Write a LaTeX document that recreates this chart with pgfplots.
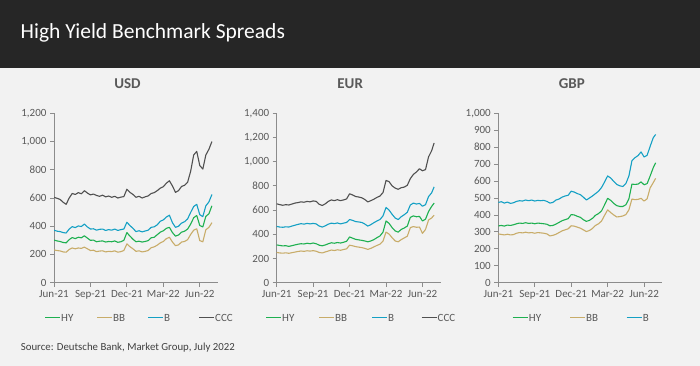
\documentclass[border=0pt]{standalone}
\usepackage{fontspec}
\setmainfont{Carlito}
\usepackage{pgfplots}
\usepackage{pgfplotstable}
\pgfplotsset{compat=1.18}
\definecolor{hdr}{HTML}{262626}
\definecolor{bg}{HTML}{F2F2F2}
\definecolor{axgrey}{HTML}{8C8C8C}
\definecolor{lbl}{HTML}{595959}
\definecolor{src}{HTML}{404040}
\definecolor{cHY}{RGB}{30,176,80}
\definecolor{cBB}{RGB}{200,172,105}
\definecolor{cB}{RGB}{20,160,196}
\definecolor{cCCC}{RGB}{80,80,80}

\pgfplotstableread{
x ccc b hy bb
0.00 605 372 302 232
0.25 598 365 296 228
0.50 590 362 292 225
0.75 570 355 285 218
1.00 555 352 282 216
1.25 600 380 305 235
1.50 632 397 320 246
1.75 625 390 312 240
2.00 638 402 322 246
2.25 630 398 318 243
2.50 652 415 332 252
2.75 635 395 316 240
3.00 622 380 300 228
3.25 628 382 302 230
3.50 618 372 290 220
3.75 612 378 294 224
4.00 620 380 296 226
4.25 608 370 288 218
4.50 614 376 292 222
4.75 605 372 290 220
5.00 612 380 296 226
5.25 600 370 286 216
5.50 606 376 290 220
5.75 610 380 300 228
6.00 662 428 355 275
6.25 640 405 330 255
6.50 625 385 308 240
6.75 605 362 290 222
7.00 612 368 294 226
7.25 600 360 288 218
7.50 608 366 292 222
7.75 615 372 298 228
8.00 632 392 318 248
8.25 638 396 322 254
8.50 652 410 340 266
8.75 670 435 358 282
9.00 680 445 368 292
9.25 705 465 385 312
9.50 722 478 392 322
9.75 685 425 355 288
10.00 640 392 330 262
10.25 652 400 338 268
10.50 682 422 358 288
10.75 690 432 365 292
11.00 712 452 380 305
11.25 790 498 415 342
11.50 905 540 460 372
11.75 930 555 476 382
12.00 830 482 405 298
12.25 805 468 395 290
12.50 905 545 470 375
12.75 945 572 488 392
13.00 1000 625 545 425
}\usd

\pgfplotstableread{
x ccc b hy bb
0.00 652 465 312 250
0.25 645 460 308 246
0.50 640 458 304 244
0.75 645 462 306 247
1.00 642 460 300 243
1.25 650 468 306 248
1.50 658 475 312 253
1.75 662 482 318 258
2.00 668 488 322 262
2.25 665 484 320 259
2.50 672 490 326 264
2.75 668 486 322 261
3.00 676 490 328 265
3.25 672 486 322 260
3.50 648 468 310 250
3.75 638 460 305 246
4.00 652 470 312 254
4.25 672 484 322 262
4.50 684 492 330 270
4.75 678 488 326 266
5.00 686 494 332 272
5.25 678 486 328 268
5.50 684 492 334 274
5.75 692 498 342 280
6.00 735 522 378 310
6.25 725 515 368 305
6.50 712 505 358 298
6.75 708 502 354 294
7.00 702 498 350 290
7.25 688 485 345 284
7.50 668 468 338 275
7.75 678 480 345 284
8.00 690 496 356 296
8.25 705 510 372 308
8.50 716 522 386 318
8.75 745 552 418 344
9.00 845 622 510 418
9.25 835 600 490 402
9.50 800 565 455 372
9.75 782 535 428 345
10.00 772 522 418 338
10.25 785 545 440 356
10.50 790 562 452 370
10.75 805 582 468 384
11.00 860 642 540 455
11.25 895 658 552 464
11.50 915 650 545 458
11.75 942 655 548 460
12.00 925 632 510 408
12.25 935 645 525 440
12.50 1040 712 588 518
12.75 1090 742 630 535
12.96 1155 792 658 558
}\eur

\pgfplotstableread{
x b hy bb
0.00 474 335 288
0.25 478 338 285
0.50 470 334 282
0.75 476 340 286
1.00 468 338 282
1.25 472 342 284
1.50 480 348 292
1.75 484 352 296
2.00 482 350 294
2.25 488 354 298
2.50 484 350 294
2.75 488 352 296
3.00 482 348 292
3.25 486 352 296
3.50 484 350 294
3.75 486 348 292
4.00 480 345 288
4.25 470 336 276
4.50 474 338 280
4.75 488 346 286
5.00 494 356 296
5.25 505 366 306
5.50 512 372 312
5.75 516 378 318
6.00 540 402 336
6.25 535 400 334
6.50 526 392 328
6.75 520 386 322
7.00 505 372 312
7.25 488 362 302
7.50 500 368 308
7.75 512 380 320
8.00 526 398 338
8.25 540 408 348
8.50 562 424 364
8.75 595 460 398
9.00 630 498 430
9.25 618 486 414
9.50 598 468 400
9.75 580 455 388
10.00 572 450 390
10.25 568 450 394
10.50 585 460 402
10.75 630 495 430
11.00 720 582 494
11.25 738 580 490
11.50 750 582 492
11.75 772 595 498
12.00 742 578 482
12.25 752 585 495
12.50 805 630 560
12.75 855 678 590
12.95 875 708 616
}\gbp

\pgfplotsset{
  panel/.style={
  scale only axis, width=164pt, height=169.4pt,
  xmin=0, xmax=13.5, ymin=0,
  axis x line*=bottom, axis y line*=left,
  axis line style={draw=axgrey, line width=0.8pt, -},
  xtick={0,3,6,9,12}, xticklabels={Jun-21,Sep-21,Dec-21,Mar-22,Jun-22},
  tick align=outside, major tick length=4pt,
  tick style={draw=axgrey, line width=0.8pt},
  ticklabel style={font=\fontsize{11}{13}\selectfont, text=lbl},
  /pgf/number format/assume math mode=true,
  /pgf/number format/1000 sep={,},
  scaled y ticks=false,
  title style={font=\fontsize{15}{18}\selectfont\bfseries, text=lbl, at={(0.448,1)}, anchor=base, yshift=18.3pt},
  every axis plot/.append style={line width=1.1pt, mark=none, line join=round},
}}
\tikzset{lgnode/.style={anchor=base west, inner sep=0pt, text=lbl, font=\fontsize{11}{13}\selectfont}}
% legend sample: #1 axis name, #2 colour, #3 line start offset, #4 text start offset, #5 text
\newcommand{\lgent}[5]{%
  \draw[draw=#2, line width=1.6pt] ([xshift=#3, yshift=-35pt]#1.south west) -- ++(15pt,0pt);
  \node[lgnode] at ([xshift=#4, yshift=-38.5pt]#1.south west) {#5};}

\begin{document}
\begin{tikzpicture}
\useasboundingbox (0,0) rectangle (700pt,366pt);
\fill[bg] (0,0) rectangle (700pt,366pt);
\fill[hdr] (0,298pt) rectangle (700pt,366pt);
\node[anchor=base west, inner sep=0pt, text=white, font=\fontsize{21.5}{25}\selectfont] at (20.5pt,327pt) {High Yield Benchmark Spreads};
\node[anchor=base west, inner sep=0pt, text=src, font=\fontsize{10.8}{12}\selectfont] at (20.7pt,15.3pt) {Source: Deutsche Bank, Market Group, July 2022};

\begin{axis}[panel, name=usd, at={(54pt,83.3pt)}, anchor=south west,
  ymax=1200, ytick={0,200,...,1200}, title={USD}]
\addplot[draw=cHY] table[x=x,y=hy]{\usd};
\addplot[draw=cBB] table[x=x,y=bb]{\usd};
\addplot[draw=cB] table[x=x,y=b]{\usd};
\addplot[draw=cCCC] table[x=x,y=ccc]{\usd};
\end{axis}
\lgent{usd}{cHY}{-9pt}{7pt}{HY}
\lgent{usd}{cBB}{43pt}{59pt}{BB}
\lgent{usd}{cB}{94pt}{110pt}{B}
\lgent{usd}{cCCC}{145pt}{161pt}{CCC}

\begin{axis}[panel, name=eur, at={(276.7pt,83.3pt)}, anchor=south west,
  ymax=1400, ytick={0,200,...,1400}, title={EUR}]
\addplot[draw=cHY] table[x=x,y=hy]{\eur};
\addplot[draw=cBB] table[x=x,y=bb]{\eur};
\addplot[draw=cB] table[x=x,y=b]{\eur};
\addplot[draw=cCCC] table[x=x,y=ccc]{\eur};
\end{axis}
\lgent{eur}{cHY}{-10.7pt}{5.3pt}{HY}
\lgent{eur}{cBB}{42.3pt}{58.3pt}{BB}
\lgent{eur}{cB}{95.3pt}{111.3pt}{B}
\lgent{eur}{cCCC}{144.8pt}{160.8pt}{CCC}

\begin{axis}[panel, name=gbp, at={(498.3pt,83.3pt)}, anchor=south west,
  ymax=1000, ytick={0,100,...,1000}, title={GBP}]
\addplot[draw=cHY] table[x=x,y=hy]{\gbp};
\addplot[draw=cBB] table[x=x,y=bb]{\gbp};
\addplot[draw=cB] table[x=x,y=b]{\gbp};
\end{axis}
\lgent{gbp}{cHY}{14.4pt}{30.4pt}{HY}
\lgent{gbp}{cBB}{71.7pt}{87.7pt}{BB}
\lgent{gbp}{cB}{128.4pt}{144.4pt}{B}
\end{tikzpicture}
\end{document}
